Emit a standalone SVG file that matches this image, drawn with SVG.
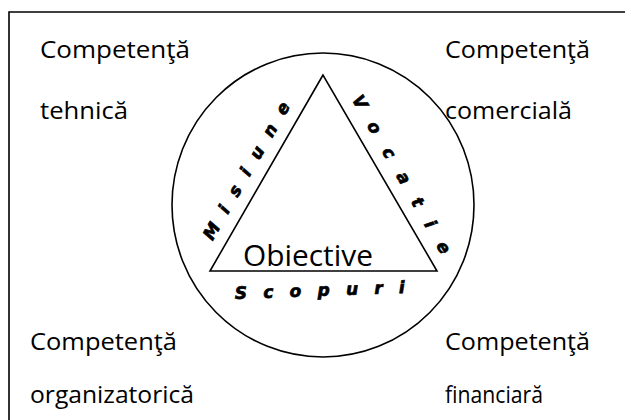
<svg xmlns="http://www.w3.org/2000/svg" width="625" height="420" viewBox="0 0 625 420">
  <style>
    .lbl { font-family: "Open Sans", "Noto Sans", sans-serif; font-size: 23px; fill: #000; }
    .big { font-family: "Open Sans", "Noto Sans", sans-serif; font-size: 30px; fill: #000; }
    .wa { font-family: "DejaVu Sans", "Liberation Sans", sans-serif; font-size: 17px; font-weight: bold; font-style: italic; fill: #000; stroke: #000; stroke-width: 0.7; }
    .line { fill: none; stroke: #000; stroke-width: 1.6; }
  </style>
  <rect x="0" y="0" width="625" height="420" fill="#fff"/>
  <path id="frame" d="M9,420 V12 H625" class="line"/>

  <g id="circle">
    <ellipse cx="323" cy="205" rx="151" ry="152" class="line"/>
  </g>
  <g id="triangle">
    <polygon points="323,75 210,271 437,271" class="line" stroke-linejoin="miter"/>
    <text class="big" x="243" y="266" textLength="130" lengthAdjust="spacingAndGlyphs">Obiective</text>
  </g>
  <g id="misiune">
    <text class="wa" transform="translate(251.5,173.8) rotate(-60)" text-anchor="middle" textLength="156" lengthAdjust="spacing">Misiune</text>
  </g>
  <g id="vocatie">
    <text class="wa" transform="translate(396.5,177.2) rotate(60)" text-anchor="middle" textLength="180" lengthAdjust="spacing">Vocatie</text>
  </g>
  <g id="scopuri">
    <text class="wa" transform="translate(320,296) rotate(-2)" text-anchor="middle" textLength="170" lengthAdjust="spacing">Scopuri</text>
  </g>

  <g id="tehnica">
    <text class="lbl" x="40" y="58" textLength="150" lengthAdjust="spacingAndGlyphs">Competenţă</text>
    <text class="lbl" x="40" y="119" textLength="88" lengthAdjust="spacingAndGlyphs">tehnică</text>
  </g>
  <g id="comerciala">
    <text class="lbl" x="445" y="58" textLength="145" lengthAdjust="spacingAndGlyphs">Competenţă</text>
    <text class="lbl" x="445" y="119" textLength="127" lengthAdjust="spacingAndGlyphs">comercială</text>
  </g>
  <g id="organizatorica">
    <text class="lbl" x="30" y="350" textLength="147" lengthAdjust="spacingAndGlyphs">Competenţă</text>
    <text class="lbl" x="30" y="403" textLength="164" lengthAdjust="spacingAndGlyphs">organizatorică</text>
  </g>
  <g id="financiara">
    <text class="lbl" x="445" y="350" textLength="145" lengthAdjust="spacingAndGlyphs">Competenţă</text>
    <text class="lbl" x="445" y="403" textLength="98" lengthAdjust="spacingAndGlyphs">financiară</text>
  </g>
  <g id="connectors"></g>
</svg>
